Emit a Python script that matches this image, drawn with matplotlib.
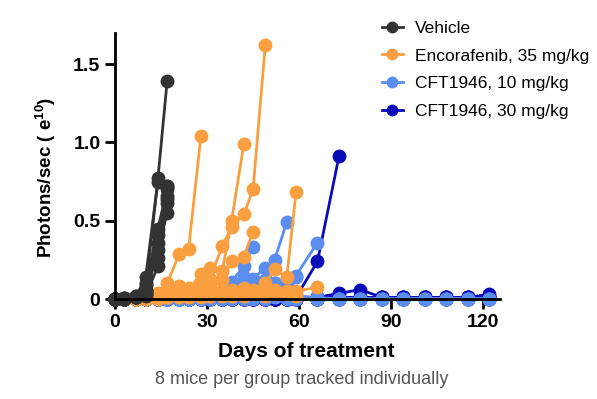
import matplotlib
matplotlib.use("Agg")
import matplotlib.pyplot as plt
from matplotlib.lines import Line2D

plt.rcParams['font.family'] = ['Liberation Sans', 'DejaVu Sans']
plt.rcParams['mathtext.fontset'] = 'custom'
plt.rcParams['mathtext.rm'] = 'Liberation Sans'
plt.rcParams['mathtext.bf'] = 'Liberation Sans:bold'

# imaging days (twice a week, weekly after day 59)
days = [0, 3, 7, 10, 14, 17, 21, 24, 28, 31, 35, 38, 42, 45, 49, 52, 56, 59,
        66, 73, 80, 87, 94, 101, 108, 115, 122]

groups = ["Vehicle", "Encorafenib, 35 mg/kg", "CFT1946, 10 mg/kg", "CFT1946, 30 mg/kg"]
colors = ["#333333", "#F99F40", "#5B8DEF", "#0A0AB8"]

# photons/sec (x1e10), one list per mouse
vehicle = [
    [0, 0.005, 0.01, 0.06, 0.77, 1.39],
    [0, 0.003, 0.02, 0.14, 0.75, 0.72],
    [0, 0.004, 0.015, 0.09, 0.45, 0.70],
    [0, 0.002, 0.01, 0.05, 0.41, 0.66],
    [0, 0.003, 0.02, 0.04, 0.36, 0.61],
    [0, 0.002, 0.01, 0.03, 0.31, 0.55],
    [0, 0.004, 0.012, 0.10, 0.26, 0.72],
    [0, 0.003, 0.01, 0.02, 0.21, 0.64],
]

encorafenib = [
    [0, 0, 0.01, 0.02, 0.04, 0.10, 0.29, 0.32, 1.04],
    [0, 0, 0.01, 0.01, 0.03, 0.07, 0.06, 0.07, 0.10, 0.13, 0.34, 0.46, 0.54, 0.70, 1.62],
    [0, 0, 0.01, 0.02, 0.02, 0.04, 0.08, 0.06, 0.16, 0.20, 0.18, 0.50, 0.99],
    [0, 0, 0.01, 0.01, 0.02, 0.03, 0.04, 0.05, 0.06, 0.08, 0.12, 0.24, 0.27, 0.43],
    [0, 0, 0, 0.01, 0.01, 0.02, 0.02, 0.03, 0.03, 0.04, 0.05, 0.06, 0.07, 0.06, 0.10, 0.19, 0.14, 0.68],
    [0, 0, 0, 0.01, 0.01, 0.01, 0.02, 0.02, 0.03, 0.03, 0.04, 0.04, 0.05, 0.04, 0.05, 0.06, 0.05, 0.05, 0.075],
    [0, 0, 0, 0, 0.01, 0.01, 0.01, 0.02, 0.02, 0.02, 0.03, 0.03, 0.03, 0.04, 0.03, 0.04, 0.04, 0.03],
    [0, 0, 0, 0, 0, 0.01, 0.01, 0.01, 0.01, 0.02, 0.02, 0.02, 0.02, 0.03, 0.02, 0.03, 0.03, 0.02],
]

cft_10 = [
    [0, 0, 0, 0, 0, 0, 0.01, 0.01, 0.01, 0.02, 0.03, 0.05, 0.07, 0.10, 0.12, 0.25, 0.49],
    [0, 0, 0, 0, 0, 0, 0, 0.01, 0.01, 0.02, 0.04, 0.11, 0.21, 0.33],
    [0, 0, 0, 0, 0, 0, 0, 0, 0.01, 0.01, 0.02, 0.03, 0.04, 0.06, 0.08, 0.10, 0.10, 0.15, 0.36],
    [0, 0, 0, 0, 0, 0, 0, 0, 0, 0.01, 0.02, 0.04, 0.14, 0.13, 0.20, 0.10, 0.10, 0.14],
    [0, 0, 0, 0, 0, 0, 0, 0, 0, 0, 0.01, 0.01, 0.02, 0.03, 0.04, 0.04, 0.03, 0.02, 0.01, 0, 0, 0, 0, 0, 0, 0, 0],
    [0, 0, 0, 0, 0, 0, 0, 0, 0, 0, 0, 0.01, 0.01, 0.01, 0.02, 0.02, 0.02, 0.01, 0, 0, 0, 0, 0, 0, 0, 0, 0],
    [0, 0, 0, 0, 0, 0, 0, 0, 0, 0, 0, 0, 0, 0.01, 0.01, 0.01, 0.01, 0, 0, 0, 0, 0, 0, 0, 0, 0, 0],
    [0, 0, 0, 0, 0, 0, 0, 0, 0, 0, 0, 0, 0, 0, 0, 0.01, 0, 0, 0, 0, 0, 0, 0, 0, 0, 0, 0],
]

cft_30 = [
    [0, 0, 0, 0, 0, 0, 0, 0, 0, 0, 0, 0, 0, 0, 0, 0, 0, 0.01, 0.24, 0.91],
    [0, 0, 0, 0, 0, 0, 0, 0, 0, 0, 0, 0, 0, 0, 0, 0, 0, 0.01, 0.01, 0.036, 0.06, 0.01, 0.01, 0.01, 0.01, 0.01, 0.01],
    [0, 0, 0, 0, 0, 0, 0, 0, 0, 0, 0, 0, 0, 0, 0, 0, 0, 0, 0.01, 0.01, 0.01, 0.01, 0.01, 0.01, 0.01, 0.01, 0.03],
    [0, 0, 0, 0, 0, 0, 0, 0, 0, 0, 0, 0, 0, 0, 0, 0, 0, 0, 0, 0.01, 0.01, 0.01, 0.01, 0.01, 0.01, 0.01, 0.01],
    [0, 0, 0, 0, 0, 0, 0, 0, 0, 0, 0, 0, 0, 0, 0, 0, 0, 0, 0, 0, 0.01, 0.01, 0.01, 0.01, 0.01, 0.01, 0.01],
    [0, 0, 0, 0, 0, 0, 0, 0, 0, 0, 0, 0, 0, 0, 0, 0, 0, 0, 0, 0, 0, 0, 0, 0, 0, 0, 0],
    [0, 0, 0, 0, 0, 0, 0, 0, 0, 0, 0, 0, 0, 0, 0, 0, 0, 0, 0, 0, 0, 0, 0, 0, 0, 0, 0],
    [0, 0, 0, 0, 0, 0, 0, 0, 0, 0, 0, 0, 0, 0, 0, 0, 0, 0, 0, 0, 0, 0, 0, 0, 0, 0, 0],
]

fig = plt.figure(figsize=(5.97, 3.99), dpi=100)
ax = fig.add_axes([0.1926, 0.2506, 0.645, 0.6674])

# draw last group first so vehicle sits on top
all_groups = [vehicle, encorafenib, cft_10, cft_30]
for i in [3, 2, 1, 0]:
    for mouse in all_groups[i]:
        ax.plot(days[:len(mouse)], mouse, color=colors[i], marker="o",
                markersize=10, markeredgewidth=0, linewidth=2, clip_on=False)

ax.set_xlim(0, 125.5)
ax.set_ylim(0, 1.7)
ax.set_xticks([0, 30, 60, 90, 120])
ax.set_yticks([0, 0.5, 1.0, 1.5])
ax.set_yticklabels(["0", "0.5", "1.0", "1.5"])
for lab in ax.get_xticklabels() + ax.get_yticklabels():
    lab.set_fontweight("bold")
ax.tick_params(labelsize=14, width=2, length=7, pad=3.5)

ax.spines["top"].set_visible(False)
ax.spines["right"].set_visible(False)
ax.spines["left"].set_linewidth(2)
ax.spines["bottom"].set_linewidth(2)

ax.set_xlabel("Days of treatment", fontsize=15, fontweight="bold")
ax.xaxis.set_label_coords(0.498, -0.162)
ax.set_ylabel(r"Photons/sec ( e$^{\mathbf{10}}$)", fontsize=13.5, fontweight="bold")
ax.yaxis.set_label_coords(-0.148, 0.455)

fig.text(0.506, 0.05, "8 mice per group tracked individually", ha="center",
         va="center", fontsize=13, color="#555555")

handles = [Line2D([], [], color=c, marker="o", markersize=7.5, linewidth=2) for c in colors]
fig.legend(handles, groups, loc="upper left", bbox_to_anchor=(0.64, 0.948),
           frameon=False, fontsize=12.5, handlelength=1.2, handletextpad=0.7,
           labelspacing=0.72, borderpad=0, borderaxespad=0)

plt.savefig("out.png", dpi=100)
